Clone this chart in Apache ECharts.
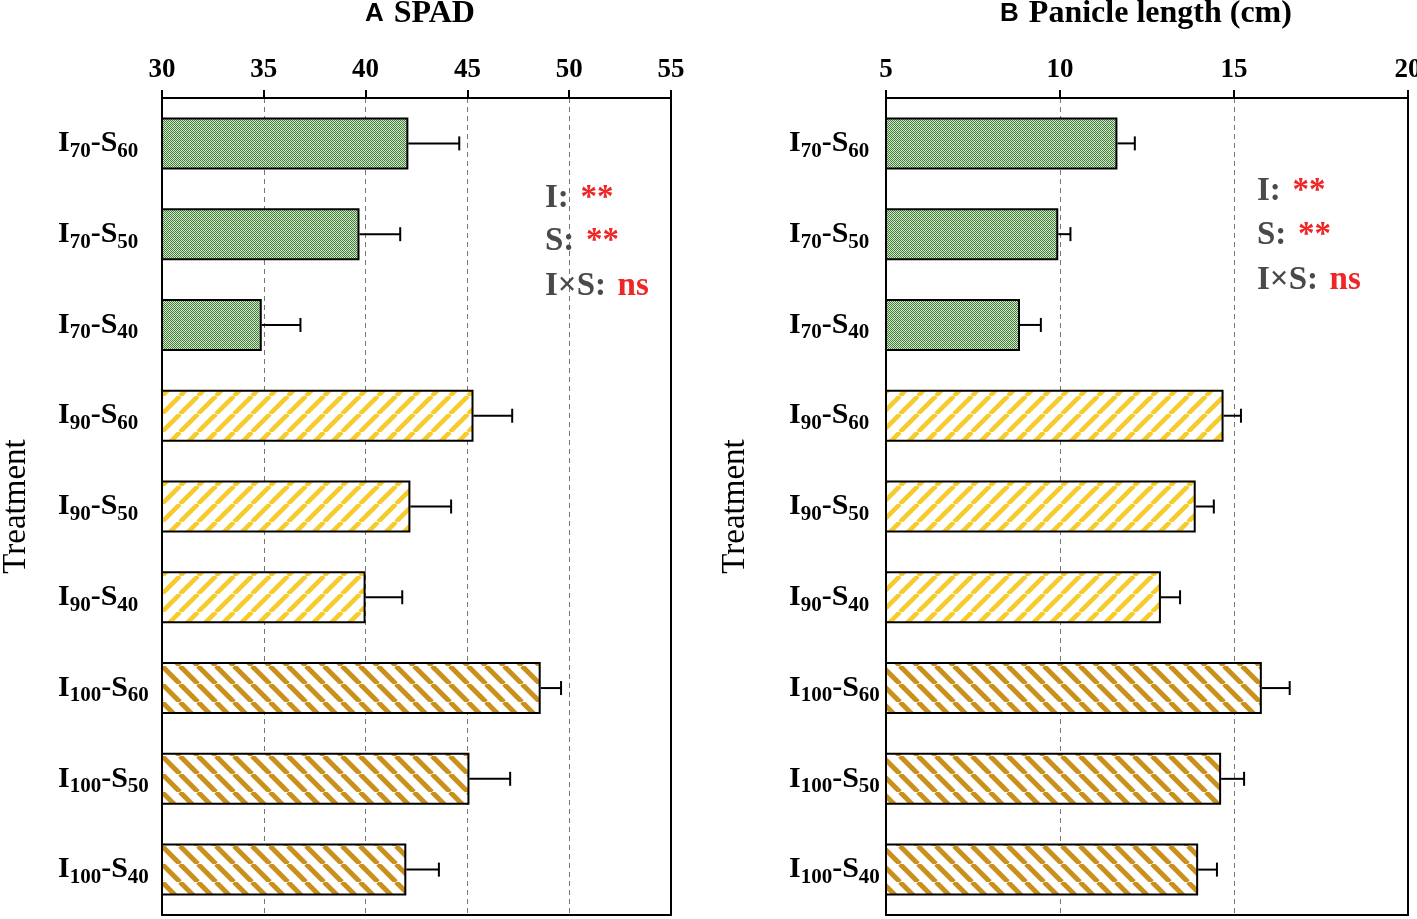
<!DOCTYPE html>
<html>
<head>
<meta charset="utf-8">
<script src="https://cdn.jsdelivr.net/npm/echarts@6/dist/echarts.min.js"></script>
<style>
html,body{margin:0;padding:0;background:#fff;}
#chart{width:1417px;height:919px;}
</style>
</head>
<body>
<div id="chart"></div>
<script>
// ---- data ----
const categories = ['I70-S60','I70-S50','I70-S40','I90-S60','I90-S50','I90-S40','I100-S60','I100-S50','I100-S40'];
const spadValues = [42.1, 39.7, 34.9, 45.3, 42.2, 40.0, 48.6, 45.1, 42.0];
const spadErrors = [2.5, 2.0, 1.9, 1.9, 2.0, 1.8, 1.0, 2.0, 1.6];
const panicleValues = [11.65, 9.95, 8.85, 14.7, 13.9, 12.9, 15.8, 14.63, 13.97];
const panicleErrors = [0.5, 0.35, 0.6, 0.5, 0.52, 0.55, 0.8, 0.66, 0.54];
const spadTicks = {min: 30, max: 55, interval: 5};
const panicleTicks = {min: 5, max: 20, interval: 5};
const groups = ['I70','I70','I70','I90','I90','I90','I100','I100','I100'];

// ---- patterns ----
function greenPattern(){
  const c = document.createElement('canvas'); c.width = 8; c.height = 8;
  const ctx = c.getContext('2d');
  for (let y=0;y<8;y++) for (let x=0;x<8;x++){
    ctx.fillStyle = ((x+y)%2===0) ? '#417f3a' : '#d3e5ca';
    ctx.fillRect(x,y,1,1);
  }
  ctx.fillStyle = '#ffffff';
  ctx.fillRect(1,2,1,1); ctx.fillRect(5,6,1,1);
  return c;
}
function stripePattern(color, rising, w){
  const s = 18;
  const c = document.createElement('canvas'); c.width = s; c.height = s;
  const ctx = c.getContext('2d');
  ctx.fillStyle = '#ffffff'; ctx.fillRect(0,0,s,s);
  ctx.strokeStyle = color; ctx.lineWidth = w;
  for (const k of [-s, 0, s]){
    ctx.beginPath();
    if (rising){ ctx.moveTo(k, s); ctx.lineTo(k+s, 0); }
    else { ctx.moveTo(k, 0); ctx.lineTo(k+s, s); }
    ctx.stroke();
  }
  return c;
}
const fills = {
  I70: {image: greenPattern(), repeat: 'repeat'},
  I90: {image: stripePattern('#f7cb2a', true, 4.5), repeat: 'repeat'},
  I100: {image: stripePattern('#c9901c', false, 5), repeat: 'repeat'}
};

const serif = '"Liberation Serif","Times New Roman",serif';
const sans = '"Liberation Sans",Arial,sans-serif';

function catLabel(v){
  const m = v.match(/I(\d+)-S(\d+)/);
  return '{m|I}{s|' + m[1] + '}{m|-S}{s|' + m[2] + '}';
}

function barData(values){
  return values.map((v,i)=>({value: v, itemStyle: {color: fills[groups[i]]}}));
}
function errData(values, errs){
  return values.map((v,i)=>[v, v+errs[i], i]);
}

function errRender(params, api){
  const y = api.value(2);
  const s = api.coord([api.value(0), y]);
  const e = api.coord([api.value(1), y]);
  const st = {stroke:'#000', lineWidth:2};
  return {type:'group', children:[
    {type:'line', shape:{x1:s[0],y1:s[1],x2:e[0],y2:e[1]}, style:st},
    {type:'line', shape:{x1:e[0],y1:e[1]-7,x2:e[0],y2:e[1]+7}, style:st}
  ]};
}

function xAxisCfg(gi, t){
  return {
    gridIndex: gi, type:'value', position:'top', min:t.min, max:t.max, interval:t.interval,
    axisLine:{show:true, lineStyle:{color:'#000', width:2}},
    axisTick:{show:true, length:8, lineStyle:{color:'#000', width:2}},
    axisLabel:{color:'#000', fontFamily:serif, fontSize:27, fontWeight:'bold', margin:14},
    splitLine:{show:true, lineStyle:{color:'#777', width:1, type:[5,4]}}
  };
}
function xFrameCfg(gi, t){
  return {
    gridIndex: gi, type:'value', position:'bottom', min:t.min, max:t.max, interval:t.interval,
    axisLine:{show:true, lineStyle:{color:'#000', width:2}},
    axisTick:{show:false}, axisLabel:{show:false}, splitLine:{show:false}
  };
}
function yAxisCfg(gi, margin, nameGap){
  return {
    gridIndex: gi, type:'category', data: categories, inverse:true,
    name:'Treatment', nameLocation:'middle', nameRotate:90, nameGap:nameGap,
    nameTextStyle:{color:'#000', fontFamily:serif, fontSize:33, fontWeight:'normal'},
    axisLine:{show:true, lineStyle:{color:'#000', width:2}},
    axisTick:{show:false},
    axisLabel:{
      align:'left', margin: margin, formatter: catLabel,
      rich:{
        m:{fontFamily:serif, fontSize:30, fontWeight:'bold', color:'#000'},
        s:{fontFamily:serif, fontSize:21, fontWeight:'bold', color:'#000', padding:[16,0,0,0]}
      }
    }
  };
}
function yFrameCfg(gi){
  return {
    gridIndex: gi, type:'category', data: categories, inverse:true, position:'right',
    axisLine:{show:true, lineStyle:{color:'#000', width:2}},
    axisTick:{show:false}, axisLabel:{show:false}, splitLine:{show:false}
  };
}

function annot(x, y, g, r){
  return {
    type:'text', left: x, top: y, z: 10,
    style:{
      text: '{g|' + g + '} {r|' + r + '}',
      rich:{
        g:{fontFamily:serif, fontSize:33, fontWeight:'bold', fill:'#4a4a4a'},
        r:{fontFamily:serif, fontSize:33, fontWeight:'bold', fill:'#ee2626'}
      }
    }
  };
}
function titleText(cx, letter, txt){
  return {
    type:'text', x: cx, y: 14,
    style:{
      text: '{a|' + letter + '}   {b|' + txt + '}',
      align:'center', verticalAlign:'middle',
      rich:{
        a:{fontFamily:sans, fontSize:26, fontWeight:'bold', fill:'#000'},
        b:{fontFamily:serif, fontSize:32, fontWeight:'bold', fill:'#000'}
      }
    }
  };
}

const chart = echarts.init(document.getElementById('chart'), null, {renderer:'canvas'});
chart.setOption({
  backgroundColor:'#fff',
  animation:false,
  grid:[
    {left:162, top:98, width:509, height:817, outerBoundsMode:'none', containLabel:false},
    {left:886, top:98, width:522, height:817, outerBoundsMode:'none', containLabel:false}
  ],
  xAxis:[xAxisCfg(0, spadTicks), xAxisCfg(1, panicleTicks), xFrameCfg(0, spadTicks), xFrameCfg(1, panicleTicks)],
  yAxis:[yAxisCfg(0, 104, 129), yAxisCfg(1, 97, 134), yFrameCfg(0), yFrameCfg(1)],
  series:[
    {type:'bar', xAxisIndex:0, yAxisIndex:0, data: barData(spadValues), barWidth:52,
     itemStyle:{borderColor:'#000', borderWidth:2}},
    {type:'custom', xAxisIndex:0, yAxisIndex:0, data: errData(spadValues, spadErrors),
     encode:{x:[0,1], y:2}, renderItem: errRender, z:3},
    {type:'bar', xAxisIndex:1, yAxisIndex:1, data: barData(panicleValues), barWidth:52,
     itemStyle:{borderColor:'#000', borderWidth:2}},
    {type:'custom', xAxisIndex:1, yAxisIndex:1, data: errData(panicleValues, panicleErrors),
     encode:{x:[0,1], y:2}, renderItem: errRender, z:3}
  ],
  graphic:[
    titleText(420, 'A', 'SPAD'),
    titleText(1146, 'B', 'Panicle length (cm)'),
    annot(545, 182, 'I:', ' **'),
    annot(545, 225, 'S:', ' **'),
    annot(545, 270, 'I×S:', ' ns'),
    annot(1257, 175, 'I:', ' **'),
    annot(1257, 219, 'S:', ' **'),
    annot(1257, 264, 'I×S:', ' ns')
  ]
});
</script>
</body>
</html>
